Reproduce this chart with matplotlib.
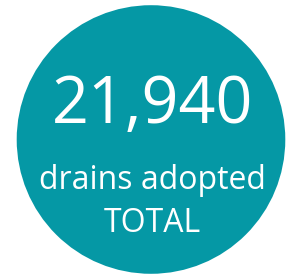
import matplotlib
matplotlib.use("Agg")
import matplotlib.pyplot as plt
from matplotlib.patches import Circle

# chart content
total_value = 21940
label_lines = ["drains adopted", "TOTAL"]

teal = "#0598a5"

fig = plt.figure(figsize=(2.89, 2.76), dpi=100)
ax = fig.add_axes([0, 0, 1, 1])
ax.set_xlim(0, 289)
ax.set_ylim(276, 0)
ax.set_aspect("equal")
ax.axis("off")

ax.add_patch(Circle((151, 139.5), 134.3, color=teal, lw=0))

ax.text(152.5, 123, f"{total_value:,}", color="white", fontsize=46.5,
        family="Open Sans", ha="center", va="baseline")
ax.text(152.5, 189, label_lines[0], color="white", fontsize=23,
        family="Open Sans", ha="center", va="baseline")
ax.text(152.5, 232, label_lines[1], color="white", fontsize=23,
        family="Open Sans", ha="center", va="baseline")

fig.savefig("out.png", dpi=100, facecolor="white")
